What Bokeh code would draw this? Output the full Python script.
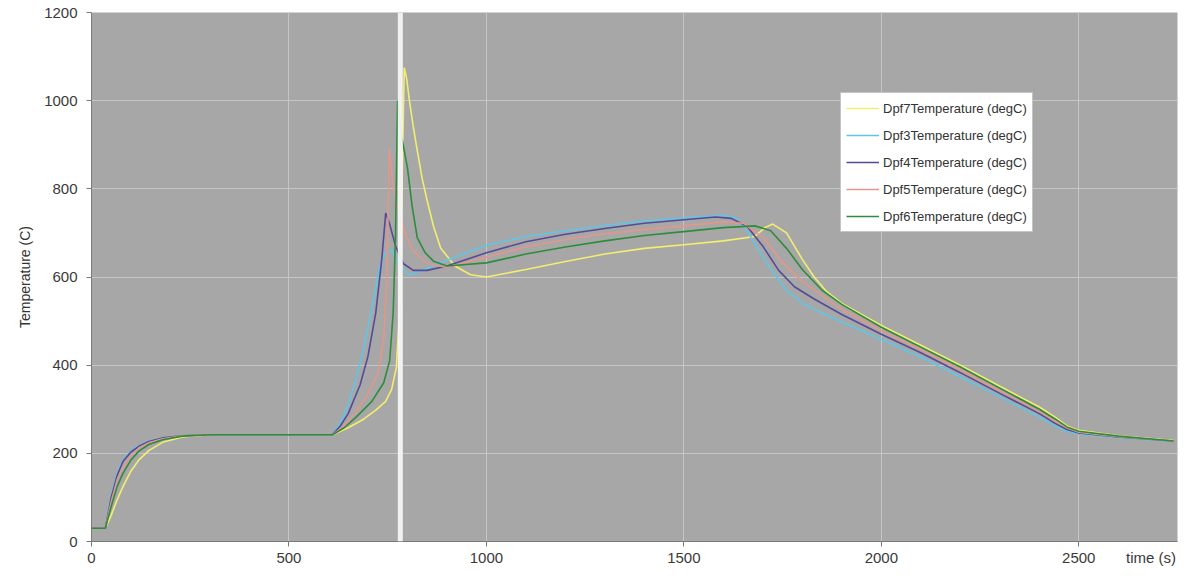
from bokeh.plotting import figure
from bokeh.models import FixedTicker, Span, Legend, LegendItem, Range1d
from bokeh.embed import file_html
from bokeh.resources import INLINE

# ---- data (time in s, temperature in degC) ----
series_names = ["Dpf7Temperature (degC)", "Dpf3Temperature (degC)", "Dpf4Temperature (degC)",
                "Dpf5Temperature (degC)", "Dpf6Temperature (degC)"]

t_dpf7 = [0, 35, 50, 65, 80, 100, 120, 145, 180, 230, 300, 450, 610, 650, 690, 720, 745, 760, 772,
          780, 786, 792, 798, 805, 815, 825, 837, 850, 866, 884, 920, 960, 1000, 1100, 1200, 1300,
          1400, 1500, 1600, 1680, 1705, 1725, 1760, 1800, 1830, 1860, 1900, 2000, 2100, 2200, 2300,
          2400, 2440, 2470, 2500, 2600, 2740]
T_dpf7 = [30, 30, 60, 95, 125, 160, 185, 206, 225, 237, 242, 242, 242, 258, 278, 298, 318, 345, 395,
          520, 800, 1075, 1050, 1000, 940, 886, 825, 773, 715, 666, 625, 605, 600, 617, 635, 652,
          665, 673, 682, 692, 712, 720, 700, 640, 600, 568, 540, 490, 445, 400, 352,
          305, 282, 262, 252, 240, 229]

t_dpf3 = [0, 35, 50, 65, 80, 100, 120, 145, 180, 230, 300, 450, 610, 630, 650, 670, 690, 710, 730,
          745, 760, 775, 800, 830, 870, 900, 1000, 1100, 1200, 1300, 1400, 1500, 1600, 1630, 1660,
          1690, 1720, 1760, 1800, 1850, 1900, 2000, 2100, 2200, 2300, 2400, 2440, 2470, 2500, 2600,
          2740]
T_dpf3 = [30, 30, 105, 155, 185, 205, 218, 228, 235, 240, 242, 242, 242, 268, 310, 370, 440, 530, 625,
          655, 660, 635, 605, 612, 628, 638, 672, 692, 705, 717, 727, 734, 740, 735, 705,
          660, 618, 570, 540, 518, 498, 458, 418, 373, 328, 283, 262, 250, 244, 236, 227]

t_dpf4 = [0, 35, 50, 65, 80, 100, 120, 145, 180, 230, 300, 450, 610, 630, 650, 680, 700, 720, 735,
          745, 755, 770, 790, 815, 850, 900, 1000, 1100, 1200, 1300, 1400, 1500, 1580, 1620, 1660,
          1700, 1740, 1780, 1830, 1900, 2000, 2100, 2200, 2300, 2400, 2440, 2470, 2500, 2600, 2740]
T_dpf4 = [30, 30, 100, 150, 182, 203, 216, 227, 235, 240, 242, 242, 242, 262, 290, 355, 420, 520, 640,
          745, 720, 670, 630, 615, 615, 625, 655, 680, 697, 710, 722, 730, 736, 733, 715,
          670, 615, 578, 550, 515, 470, 428, 383, 336, 290, 268, 254, 246, 237, 228]

t_dpf5 = [0, 35, 50, 65, 80, 100, 120, 145, 180, 230, 300, 450, 610, 640, 670, 700, 725, 740, 748,
          754, 762, 772, 782, 798, 815, 850, 900, 1000, 1100, 1200, 1300, 1400, 1500, 1600, 1650,
          1700, 1750, 1800, 1850, 1900, 2000, 2100, 2200, 2300, 2400, 2440, 2470, 2500, 2600, 2740]
T_dpf5 = [30, 30, 90, 140, 170, 195, 212, 224, 233, 240, 242, 242, 242, 262, 295, 335, 380, 460, 600,
          890, 820, 770, 734, 690, 659, 630, 622, 645, 668, 685, 698, 708, 716, 725, 722,
          690, 632, 590, 557, 527, 478, 435, 390, 342, 296, 273, 258, 248, 238, 228]

t_dpf6 = [0, 35, 50, 65, 80, 100, 120, 145, 180, 230, 300, 450, 610, 640, 670, 710, 740, 755, 764,
          770, 775, 785, 800, 812, 825, 845, 866, 900, 1000, 1100, 1200, 1300, 1400, 1500, 1600,
          1680, 1720, 1760, 1800, 1850, 1900, 2000, 2100, 2200, 2300, 2400, 2440, 2470, 2500, 2600,
          2740]
T_dpf6 = [30, 30, 80, 125, 155, 185, 205, 220, 231, 239, 242, 242, 242, 258, 282, 318, 360, 410, 520,
          700, 1000, 920, 848, 760, 689, 655, 636, 625, 632, 652, 668, 682, 694, 703, 712,
          716, 705, 665, 617, 570, 538, 486, 441, 396, 348, 300, 278, 260, 250, 239, 228]

series_t = [t_dpf7, t_dpf3, t_dpf4, t_dpf5, t_dpf6]
series_T = [T_dpf7, T_dpf3, T_dpf4, T_dpf5, T_dpf6]
series_colors = ["#f2ee6e", "#5fc6e6", "#574a98", "#e3978b", "#2f8c3c"]

x_ticks = [0, 500, 1000, 1500, 2000, 2500]
y_ticks = [0, 200, 400, 600, 800, 1000, 1200]
x_title = "time (s)"
x_title_pos = 2683
cursor_time = 782

# ---- figure ----
p = figure(width=1191, height=568, output_backend="svg", toolbar_location=None,
           x_range=Range1d(0, 2750), y_range=Range1d(0, 1200),
           min_border_left=91, min_border_right=14, min_border_top=12, min_border_bottom=27)
p.background_fill_color = "#a7a7a7"
p.border_fill_color = "white"
p.outline_line_color = None

p.xgrid.ticker = FixedTicker(ticks=x_ticks)
p.ygrid.ticker = FixedTicker(ticks=y_ticks)
p.grid.grid_line_color = "#c6c6c6"
p.grid.grid_line_width = 1

# x axis: labels via major ticks (incl. the axis title at the right end), tick marks via minor ticks
p.xaxis.ticker = FixedTicker(ticks=x_ticks + [x_title_pos], minor_ticks=x_ticks)
p.xaxis.major_label_overrides = {x_title_pos: x_title}
p.xaxis.major_tick_out = 0
p.xaxis.major_tick_in = 0
p.xaxis.minor_tick_out = 5
p.xaxis.minor_tick_in = 0
p.xaxis.minor_tick_line_color = "#7a7a7a"
p.xaxis.major_label_standoff = 2

p.yaxis.ticker = FixedTicker(ticks=y_ticks)
p.yaxis.major_tick_out = 5
p.yaxis.major_tick_in = 0
p.yaxis.minor_tick_line_color = None
p.yaxis.major_label_standoff = 9

for ax in (p.xaxis[0], p.yaxis[0]):
    ax.axis_line_color = "#7a7a7a"
    ax.major_tick_line_color = "#7a7a7a"
    ax.major_label_text_font = "Liberation Sans"
    ax.major_label_text_font_size = "15px"
    ax.major_label_text_color = "#3a3a3a"

p.yaxis.axis_label = "Temperature (C)"
p.yaxis.axis_label_text_font = "Liberation Sans"
p.yaxis.axis_label_text_font_size = "14px"
p.yaxis.axis_label_text_font_style = "normal"
p.yaxis.axis_label_text_color = "#333333"
p.yaxis.axis_label_standoff = 8

items = []
for name, ts, Ts, c in zip(series_names, series_t, series_T, series_colors):
    r = p.line(ts, Ts, line_color=c, line_width=1.6)
    items.append(LegendItem(label=name, renderers=[r]))

cursor = Span(location=cursor_time, dimension="height", line_color="#f4f4f4", line_width=5, line_alpha=0.95)
p.add_layout(cursor)

legend = Legend(items=items, location=(749, 309))
legend.background_fill_color = "white"
legend.background_fill_alpha = 1.0
legend.border_line_color = "#8a8a8a"
legend.border_line_width = 1
legend.label_text_font = "Liberation Sans"
legend.label_text_font_size = "13px"
legend.label_text_color = "#333333"
legend.glyph_width = 33
legend.glyph_height = 20
legend.label_height = 20
legend.label_standoff = 4
legend.spacing = 7
legend.padding = 5
legend.margin = 0
p.add_layout(legend, "center")

open("out.html", "w").write(file_html(p, INLINE))
